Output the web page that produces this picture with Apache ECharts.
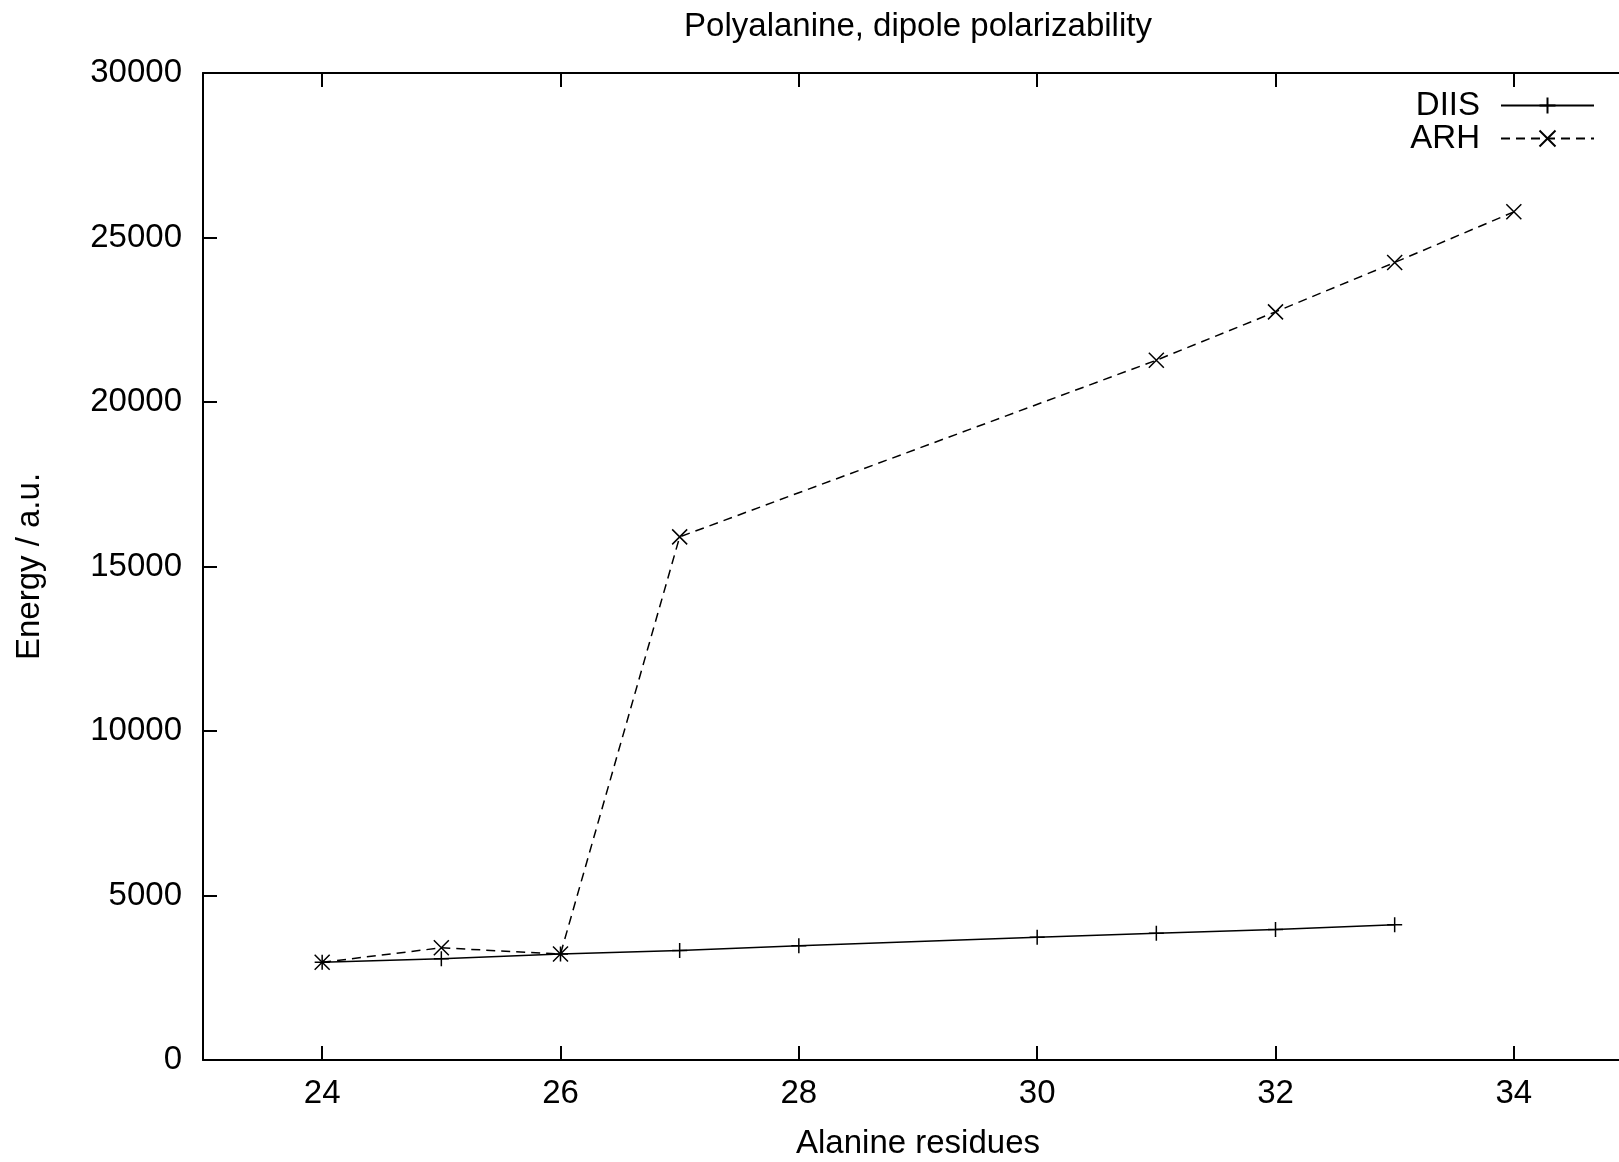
<!DOCTYPE html>
<html>
<head>
<meta charset="utf-8">
<title>Polyalanine, dipole polarizability</title>
<script src="https://cdn.jsdelivr.net/npm/echarts@6/dist/echarts.min.js"></script>
<style>
    html, body { margin: 0; padding: 0; background: #fff; overflow: hidden; }
    #chart { width: 1619px; height: 1162px; }
</style>
</head>
<body>
<div id="chart"></div>
<script>
// values
var residuesDIIS = [24, 25, 26, 27, 28, 30, 31, 32, 33];
var energyDIIS = [2970, 3080, 3220, 3330, 3470, 3730, 3850, 3970, 4110];
var residuesARH = [24, 25, 26, 27, 31, 32, 33, 34];
var energyARH = [2970, 3410, 3220, 15900, 21270, 22740, 24240, 25780];
var xTicks = [24, 26, 28, 30, 32, 34];

var font = '"Liberation Sans", Arial, sans-serif';
var fontSize = 33;
var plusSymbol = 'path://M0,-1L0,1M-1,0L1,0';
var crossSymbol = 'path://M-1,-1L1,1M-1,1L1,-1';

function pairs(xs, ys) {
    return xs.map(function (x, i) { return [x, ys[i]]; });
}

function frameAxis(extra) {
    var axis = {
        type: 'value',
        axisLine: { show: true, onZero: false, lineStyle: { color: '#000', width: 2 } },
        axisTick: { show: true, inside: true, length: 14, lineStyle: { color: '#000', width: 2 } },
        axisLabel: { show: false },
        splitLine: { show: false }
    };
    return Object.assign(axis, extra);
}

var chart = echarts.init(document.getElementById('chart'));

chart.setOption({
    animation: false,
    backgroundColor: '#fff',
    textStyle: { fontFamily: font, color: '#000' },
    title: {
        text: 'Polyalanine, dipole polarizability',
        left: 913,
        top: 5,
        textAlign: 'center',
        textStyle: { fontFamily: font, fontSize: fontSize, fontWeight: 'normal', color: '#000' }
    },
    // the plot runs past the right edge (x = 35 is off the picture), as in the original
    grid: {
        left: 203,
        top: 73,
        width: 1430,
        height: 987,
        containLabel: false,
        outerBoundsMode: 'none'
    },
    legend: {
        orient: 'vertical',
        right: 19,
        top: 84,
        align: 'right',
        itemWidth: 93,
        itemHeight: 20,
        itemGap: 0,
        textStyle: { fontFamily: font, fontSize: fontSize, lineHeight: 31, color: '#000', padding: [0, 16, 0, 0] },
        data: ['DIIS', 'ARH']
    },
    xAxis: [
        frameAxis({
            min: 23, max: 35, position: 'bottom',
            axisTick: { show: true, inside: true, length: 14, customValues: xTicks, lineStyle: { color: '#000', width: 2 } },
            axisLabel: { show: true, customValues: xTicks, fontSize: fontSize, color: '#000', margin: 17, fontFamily: font },
            name: 'Alanine residues',
            nameLocation: 'middle',
            nameGap: 67,
            nameTextStyle: { fontSize: fontSize, color: '#000', fontFamily: font }
        }),
        frameAxis({
            min: 23, max: 35, position: 'top',
            axisTick: { show: true, inside: true, length: 14, customValues: xTicks, lineStyle: { color: '#000', width: 2 } }
        })
    ],
    yAxis: [
        frameAxis({
            min: 0, max: 30000, interval: 5000, position: 'left',
            axisLabel: {
                show: true, fontSize: fontSize, color: '#000', margin: 21, fontFamily: font,
                formatter: function (v) { return String(v); }
            },
            name: 'Energy / a.u.',
            nameLocation: 'middle',
            nameGap: 157,
            nameTextStyle: { fontSize: fontSize, color: '#000', fontFamily: font }
        }),
        frameAxis({ min: 0, max: 30000, interval: 5000, position: 'right' })
    ],
    series: [
        {
            name: 'DIIS',
            type: 'line',
            data: pairs(residuesDIIS, energyDIIS),
            symbol: plusSymbol,
            symbolSize: 15,
            showAllSymbol: true,
            lineStyle: { color: '#000', width: 1.5, type: 'solid' },
            itemStyle: { color: '#000', borderColor: '#000', borderWidth: 1.5 },
            emphasis: { disabled: true }
        },
        {
            name: 'ARH',
            type: 'line',
            data: pairs(residuesARH, energyARH),
            symbol: crossSymbol,
            symbolSize: 15,
            showAllSymbol: true,
            lineStyle: { color: '#000', width: 1.5, type: [9, 6] },
            itemStyle: { color: '#000', borderColor: '#000', borderWidth: 1.5 },
            emphasis: { disabled: true }
        }
    ]
});
</script>
</body>
</html>
